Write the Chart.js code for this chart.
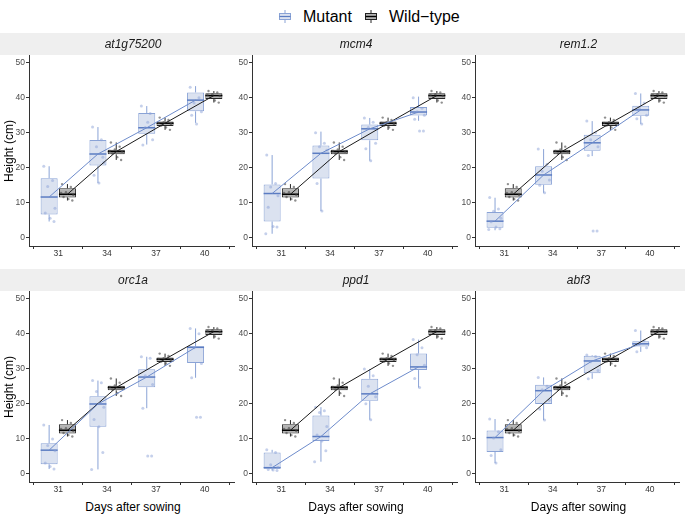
<!DOCTYPE html>
<html>
<head>
<meta charset="utf-8">
<script src="https://cdn.jsdelivr.net/npm/chart.js@4.4.0/dist/chart.umd.min.js"></script>
<style>
    body { margin: 0; background: #fff; font-family: "Liberation Sans", Arial, sans-serif; }
    #wrap { position: relative; width: 685px; height: 516px; overflow: hidden; }
    .strip { position: absolute; left: 0; width: 685px; height: 22.5px; background: #efefef; }
    .stitle { position: absolute; font-style: italic; font-size: 12px; color: #1a1a1a; transform: translate(-50%, -50%); white-space: nowrap; }
    .ytitle { position: absolute; font-size: 12px; color: #000; white-space: nowrap; transform: translate(-50%, -50%) rotate(-90deg); }
    .xtitle { position: absolute; font-size: 12px; color: #000; white-space: nowrap; transform: translate(-50%, -50%); }
    .leg { position: absolute; font-size: 16px; line-height: 16px; color: #000; white-space: nowrap; }
    .legicon { position: absolute; }
    canvas { position: absolute; }
</style>
</head>
<body>
<div id="wrap">
    <svg class="legicon" style="left:278px;top:10px" width="14" height="13">
        <line x1="7" y1="0" x2="7" y2="13" stroke="#8aa3d6" stroke-width="1"/>
        <rect x="1.5" y="3.5" width="11" height="6" fill="#dbe2f0" stroke="#8aa3d6"/>
        <line x1="1.5" y1="6.5" x2="12.5" y2="6.5" stroke="#5b7cc2" stroke-width="1.2"/>
    </svg>
    <div class="leg" style="left:303px;top:9px">Mutant</div>
    <svg class="legicon" style="left:364px;top:10px" width="14" height="13">
        <line x1="7" y1="0" x2="7" y2="13" stroke="#222" stroke-width="1"/>
        <rect x="1.5" y="3.5" width="11" height="6" fill="#b3b3b3" stroke="#222"/>
        <line x1="1.5" y1="6.5" x2="12.5" y2="6.5" stroke="#000" stroke-width="1.4"/>
    </svg>
    <div class="leg" style="left:389px;top:9px">Wild−type</div>
    <div class="strip" style="top:32.5px"></div>
    <div class="strip" style="top:268.5px"></div>
</div>
<script>
// x categories (days after sowing)
const days = ['31', '34', '37', '40'];
const genes = ['at1g75200', 'mcm4', 'rem1.2', 'orc1a', 'ppd1', 'abf3'];
const yTicks = [0, 10, 20, 30, 40, 50];

// box stats per day: [min, q1, median, q3, max]
const wtStats = [[10.6, 11.5, 12.4, 14.1, 15.3], [22.2, 23.8, 24.6, 25.1, 27.2], [30.8, 31.9, 32.7, 33.2, 34.3], [38.6, 39.6, 40.6, 41.3, 41.9]];
const mutAt1g75200 = [[4.6, 6.6, 11.6, 17.0, 20.4], [15.6, 20.6, 23.9, 27.9, 31.6], [26.6, 29.7, 31.4, 35.6, 37.6], [32.8, 36.1, 39.3, 41.5, 43.3]];
const mutMcm4 = [[1.1, 4.6, 12.6, 15.2, 23.6], [7.6, 16.9, 24.1, 26.3, 30.3], [22.0, 27.8, 31.1, 32.3, 34.2], [33.4, 34.9, 35.9, 37.3, 40.3]];
const mutRem12 = [[2.1, 2.8, 4.7, 7.3, 11.4], [12.8, 15.1, 17.9, 20.4, 25.3], [23.3, 24.8, 27.1, 29.4, 33.3], [32.5, 34.8, 36.5, 37.7, 41.2]];
const mutOrc1a = [[1.3, 2.7, 6.7, 8.7, 13.9], [1.2, 13.4, 19.9, 22.1, 26.6], [18.7, 24.7, 27.6, 29.8, 33.4], [27.4, 31.6, 36.1, 36.4, 41.5]];
const mutPpd1 = [[0.9, 1.4, 1.7, 6.0, 6.8], [3.4, 9.3, 10.6, 16.6, 19.0], [15.4, 20.8, 22.8, 27.1, 29.9], [24.6, 29.6, 30.5, 34.3, 38.3]];
const mutAbf3 = [[3.0, 6.2, 10.3, 12.3, 15.6], [15.3, 19.9, 23.7, 25.4, 27.5], [27.1, 28.7, 32.2, 33.7, 33.9], [34.8, 36.3, 37.1, 37.8, 40.9]];

// individual plants per day
const wtPts = [[15.3, 14.5, 13.0, 12.2, 11.6, 11.0, 10.6, 12.8], [27.2, 26.0, 25.2, 24.6, 24.0, 23.0, 22.2, 24.8], [34.3, 33.6, 33.0, 32.5, 32.0, 31.5, 30.8, 32.8], [41.9, 41.5, 41.0, 40.5, 40.0, 39.2, 38.6, 40.8]];
const ptsAt1g75200 = [[20.4, 16.3, 14.6, 8.4, 7.0, 5.5, 4.6], [31.6, 28.0, 26.0, 21.5, 17.8, 15.6, 23.0], [37.6, 35.5, 31.5, 28.0, 26.5, 33.0], [43.0, 40.0, 38.5, 36.0, 35.0, 32.5]];
const ptsMcm4 = [[23.6, 15.5, 14.5, 12.0, 8.7, 3.2, 3.0, 1.1], [30.0, 27.0, 26.0, 25.0, 15.5, 7.6], [34.2, 33.0, 31.5, 27.0, 25.4, 22.0], [40.0, 37.0, 36.0, 35.0, 33.8, 30.5, 30.5]];
const ptsRem12 = [[11.5, 8.2, 7.5, 5.5, 4.5, 3.0, 2.5, 2.3], [25.3, 21.0, 19.0, 16.5, 15.0, 12.8], [33.3, 30.0, 28.0, 26.0, 23.5, 1.9, 1.9], [41.2, 38.5, 37.0, 35.0, 34.0, 32.5]];
const ptsOrc1a = [[13.9, 9.9, 8.0, 6.5, 3.0, 2.0, 1.3], [26.6, 26.0, 23.5, 19.0, 15.5, 13.4, 6.0, 1.2], [33.4, 33.0, 28.0, 25.5, 18.7, 5.0, 5.0], [41.5, 40.0, 36.0, 31.5, 27.4, 16.1, 16.1]];
const ptsPpd1 = [[6.8, 6.0, 2.5, 1.8, 1.2, 1.0, 0.9], [19.0, 18.0, 17.5, 13.5, 11.0, 9.3, 6.5, 3.4], [29.9, 28.0, 25.0, 22.0, 20.0, 15.4], [38.3, 36.0, 34.0, 31.0, 27.2, 24.6]];
const ptsAbf3 = [[15.6, 12.0, 10.2, 6.8, 5.2, 3.0], [27.5, 25.0, 24.0, 21.0, 18.5, 15.3], [33.9, 33.5, 32.0, 29.5, 27.1], [40.9, 38.0, 37.0, 36.0, 34.8]];

const mutStats = [mutAt1g75200, mutMcm4, mutRem12, mutOrc1a, mutPpd1, mutAbf3];
const mutPts = [ptsAt1g75200, ptsMcm4, ptsRem12, ptsOrc1a, ptsPpd1, ptsAbf3];

// panel geometry (plot area edges in page pixels)
const colAxis = [29, 252, 475];
const colRight = [237, 460, 682];
const rowTop = [55, 291];
const rowBottom = [246, 482];
const dodge = 0.1875;
const jitter = [-0.11, 0.07, -0.03, 0.12, -0.08, 0.02, 0.1, -0.13, 0.05, -0.05];

const MUT = { fill: '#dbe2f0', border: '#8aa3d6', median: '#5b7cc2', line: '#6d8bcb', pt: 'rgba(140,162,215,0.5)' };
const WT = { fill: '#b3b3b3', border: '#262626', median: '#000', line: '#1a1a1a', pt: 'rgba(70,70,70,0.6)' };

// whiskers + median lines for the floating-bar boxes
const boxExtras = {
    id: 'boxExtras',
    afterDatasetDraw(chart, args) {
        const ds = chart.data.datasets[args.index];
        if (!ds.stats) return;
        const ctx = chart.ctx;
        const y = chart.scales.y;
        ctx.save();
        args.meta.data.forEach((bar, i) => {
            const s = ds.stats[i];
            const hw = bar.width / 2;
            ctx.strokeStyle = ds.borderColor;
            ctx.lineWidth = 1;
            ctx.beginPath();
            ctx.moveTo(bar.x, y.getPixelForValue(s[3]));
            ctx.lineTo(bar.x, y.getPixelForValue(s[4]));
            ctx.moveTo(bar.x, y.getPixelForValue(s[1]));
            ctx.lineTo(bar.x, y.getPixelForValue(s[0]));
            ctx.stroke();
            ctx.strokeStyle = ds.medianColor;
            ctx.lineWidth = 1.5;
            ctx.beginPath();
            const ym = y.getPixelForValue(s[2]);
            ctx.moveTo(bar.x - hw, ym);
            ctx.lineTo(bar.x + hw, ym);
            ctx.stroke();
        });
        ctx.restore();
    }
};

const wrap = document.getElementById('wrap');

function addText(cls, txt, x, y) {
    const d = document.createElement('div');
    d.className = cls;
    d.textContent = txt;
    d.style.left = x + 'px';
    d.style.top = y + 'px';
    wrap.appendChild(d);
}

function boxSet(stats, c, side) {
    return {
        type: 'bar',
        data: stats.map((s, i) => ({ x: i, y: [s[1], s[3]] })),
        stats: stats,
        backgroundColor: c.fill,
        borderColor: c.border,
        medianColor: c.median,
        borderWidth: 1,
        borderSkipped: false,
        stack: side,
        categoryPercentage: 0.75,
        barPercentage: 0.93
    };
}

function lineSet(stats, c, off) {
    return {
        type: 'line',
        data: stats.map((s, i) => ({ x: i + off, y: s[2] })),
        borderColor: c.line,
        borderWidth: 1,
        pointRadius: 0,
        fill: false
    };
}

function pointSet(pts, c, off, r) {
    return {
        type: 'line',
        showLine: false,
        data: pts.flatMap((arr, i) => arr.map((v, j) => ({ x: i + off + jitter[j % jitter.length], y: v }))),
        pointRadius: r,
        pointBorderWidth: 0,
        pointBackgroundColor: c.pt
    };
}

genes.forEach((gene, k) => {
    const col = k % 3, row = Math.floor(k / 3);
    const ax = colAxis[col], rx = colRight[col];
    const top = rowTop[row], bot = rowBottom[row];

    const cv = document.createElement('canvas');
    const w = rx - ax + 30, h = bot - top + 26;
    cv.width = w; cv.height = h;
    cv.style.left = (ax - 29) + 'px';
    cv.style.top = (top - 10) + 'px';
    cv.style.width = w + 'px';
    cv.style.height = h + 'px';
    wrap.appendChild(cv);

    addText('stitle', gene, (ax + rx) / 2, top - 11);
    if (col === 0) addText('ytitle', 'Height (cm)', 8.5, (top + bot) / 2);
    if (row === 1) addText('xtitle', 'Days after sowing', (ax + rx) / 2, 507);

    new Chart(cv.getContext('2d'), {
        type: 'bar',
        data: {
            datasets: [
                lineSet(mutStats[k], MUT, -dodge),
                lineSet(wtStats, WT, dodge),
                pointSet(wtPts, WT, dodge, 1.2),
                pointSet(mutPts[k], MUT, -dodge, 1.5),
                boxSet(mutStats[k], MUT, 'mut'),
                boxSet(wtStats, WT, 'wt')
            ]
        },
        options: {
            responsive: false,
            animation: false,
            layout: { padding: { top: 10, right: 1, left: 0, bottom: 0 } },
            plugins: { legend: { display: false }, tooltip: { enabled: false } },
            scales: {
                x: {
                    type: 'linear',
                    min: -0.6,
                    max: 3.6,
                    offset: false,
                    afterBuildTicks: s => { s.ticks = days.map((d, i) => ({ value: i })); },
                    afterFit: s => { s.height = 16; },
                    ticks: {
                        callback: v => days[v],
                        color: '#333',
                        font: { size: 8.5, family: 'Liberation Sans' },
                        padding: 0,
                        maxRotation: 0
                    },
                    grid: { display: true, drawOnChartArea: false, drawTicks: true, tickLength: 3, color: '#333' },
                    border: { display: true, color: '#333', width: 1 }
                },
                y: {
                    type: 'linear',
                    min: -2.4,
                    max: 52.2,
                    stacked: false,
                    afterBuildTicks: s => { s.ticks = yTicks.map(v => ({ value: v })); },
                    afterFit: s => { s.width = 29; },
                    ticks: {
                        color: '#4d4d4d',
                        font: { size: 8.5, family: 'Liberation Sans' },
                        padding: 1
                    },
                    grid: { display: true, drawOnChartArea: false, drawTicks: true, tickLength: 3, color: '#333' },
                    border: { display: true, color: '#333', width: 1 }
                }
            }
        },
        plugins: [boxExtras]
    });
});
</script>
</body>
</html>
